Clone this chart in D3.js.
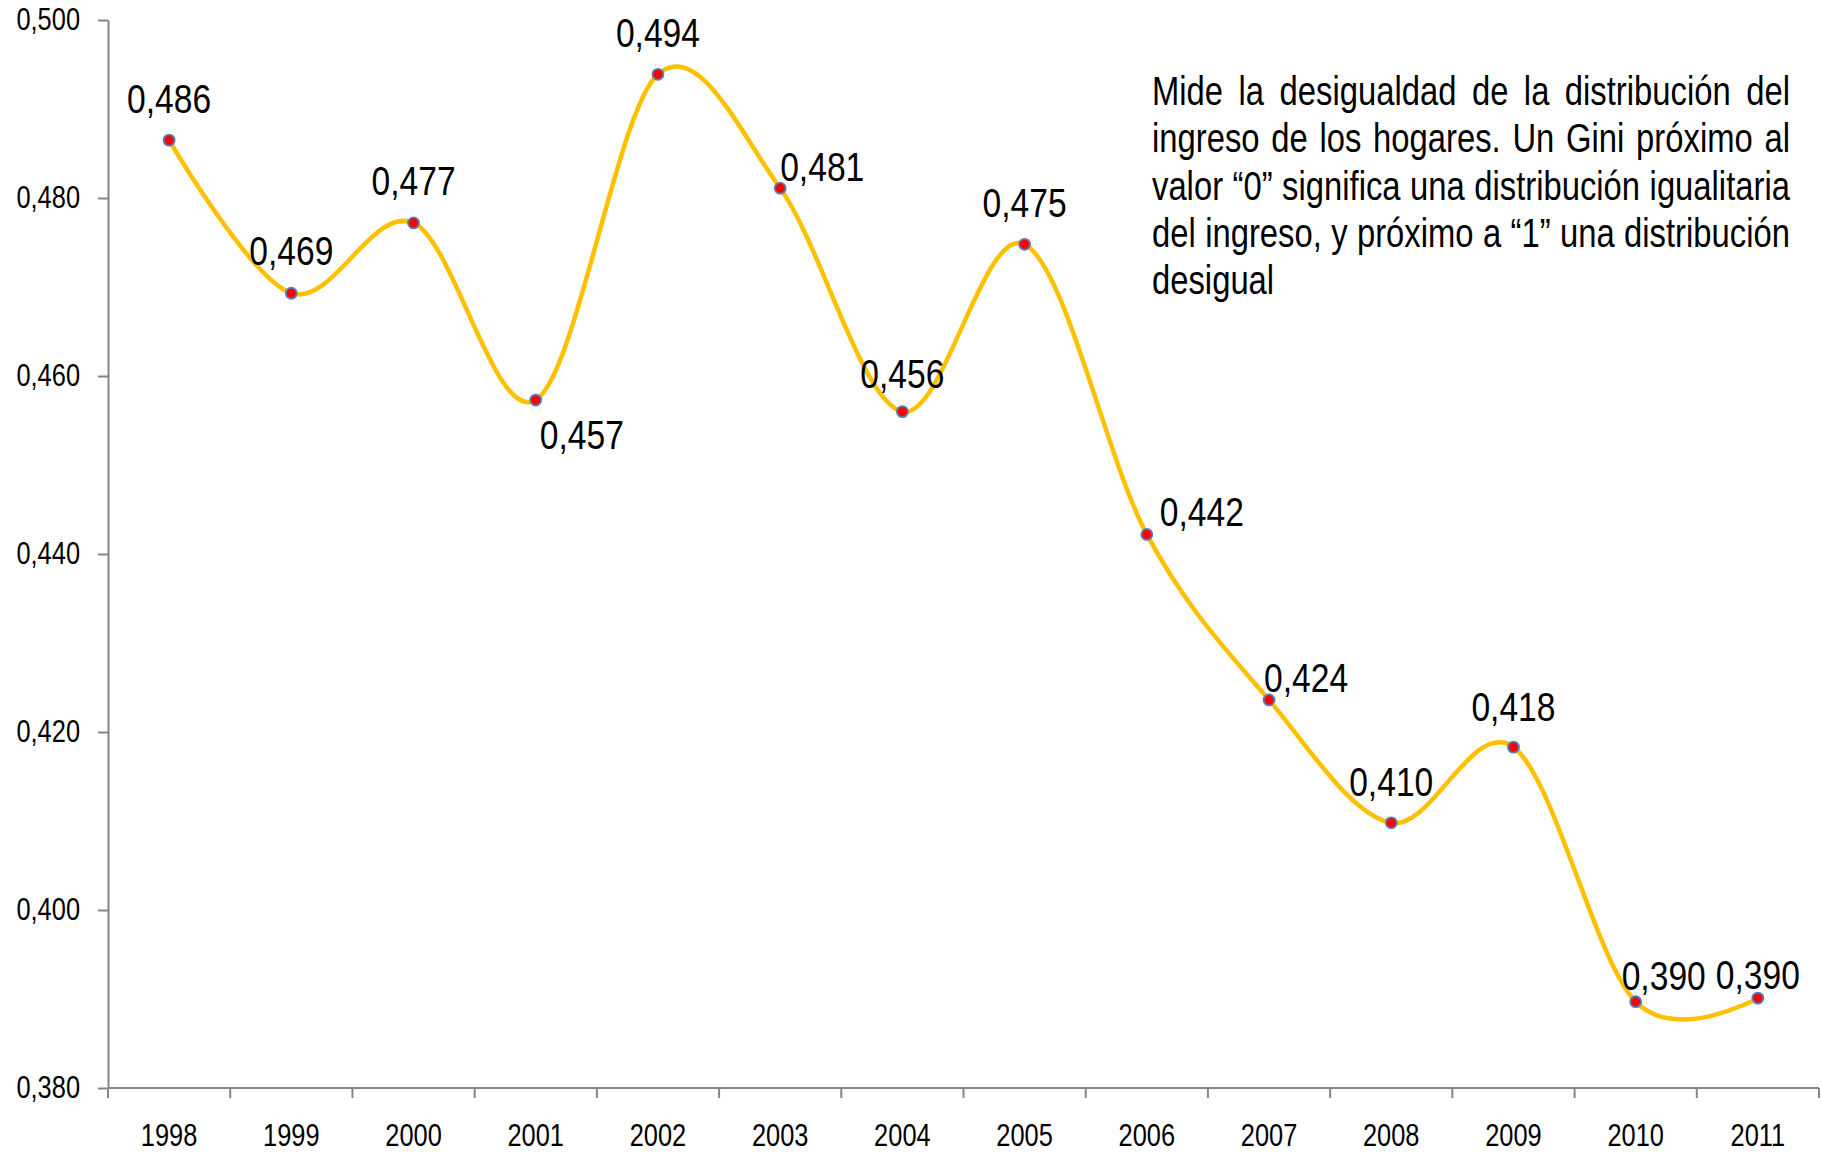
<!DOCTYPE html>
<html>
<head>
<meta charset="utf-8">
<script src="https://cdn.jsdelivr.net/npm/d3@7"></script>
<style>
  html, body { margin: 0; padding: 0; background: #fff; }
  svg text { font-family: "Liberation Sans", Arial, sans-serif; fill: #000; }
</style>
</head>
<body>
<svg id="chart" width="1822" height="1152"></svg>
<script>
// ---- data ----
const years = ["1998","1999","2000","2001","2002","2003","2004","2005","2006","2007","2008","2009","2010","2011"];
const gini = [0.4865, 0.4693, 0.4772, 0.4573, 0.4939, 0.4811, 0.4560, 0.4748, 0.4422, 0.4236, 0.4098, 0.4183, 0.3897, 0.3901];
const giniLabels = ["0,486","0,469","0,477","0,457","0,494","0,481","0,456","0,475","0,442","0,424","0,410","0,418","0,390","0,390"];
const yTicks = [0.380, 0.400, 0.420, 0.440, 0.460, 0.480, 0.500];
const yTickLabels = ["0,380","0,400","0,420","0,440","0,460","0,480","0,500"];
const noteLines = [
  "Mide la desigualdad de la distribución del",
  "ingreso de los hogares. Un Gini próximo al",
  "valor “0” significa una distribución igualitaria",
  "del ingreso, y próximo a “1” una distribución",
  "desigual"
];

// ---- label placement (style) ----
const labelPlacement = [
  {anchor:"middle", dx:0,  dy:-27},
  {anchor:"middle", dx:0,  dy:-28},
  {anchor:"middle", dx:0,  dy:-28},
  {anchor:"start",  dx:4,  dy:49},
  {anchor:"middle", dx:0,  dy:-27},
  {anchor:"start",  dx:0,  dy:-7},
  {anchor:"middle", dx:0,  dy:-24},
  {anchor:"middle", dx:0,  dy:-27},
  {anchor:"start",  dx:13, dy:-8},
  {anchor:"start",  dx:-5, dy:-8},
  {anchor:"middle", dx:0,  dy:-27},
  {anchor:"middle", dx:0,  dy:-26},
  {anchor:"start",  dx:-14,dy:-12},
  {anchor:"middle", dx:0,  dy:-9}
];

const NARROW = 0.82; // horizontal condensation to mimic a narrow face
function narrowX(sel, xFn) {
  sel.attr("x", xFn).attr("transform", `scale(${NARROW},1)`);
}

const svg = d3.select("#chart");
const mLeft = 108, mRight = 1819, mTop = 20, mBottom = 1088;
const axisColor = "#868686";

const x = d3.scaleBand().domain(years).range([mLeft, mRight]).padding(0);
const y = d3.scaleLinear().domain([0.38, 0.50]).range([mBottom, mTop]);

// y axis
const yAxis = d3.axisLeft(y).tickValues(yTicks)
  .tickFormat((d, i) => yTickLabels[i]).tickSize(10).tickSizeOuter(0).tickPadding(18);
const gy = svg.append("g").attr("transform", `translate(${mLeft},0)`).call(yAxis);
gy.selectAll("path, line").attr("stroke", axisColor).attr("stroke-width", 2);
gy.selectAll("text").style("font-size", "31px").attr("fill", "#000");
narrowX(gy.selectAll("text"), -28 / NARROW);

// x axis with ticks at band boundaries
const gx = svg.append("g").attr("transform", `translate(0,${mBottom})`);
gx.append("line").attr("x1", mLeft).attr("x2", mRight).attr("y1", 0).attr("y2", 0)
  .attr("stroke", axisColor).attr("stroke-width", 2);
const bounds = years.map(d => x(d)).concat([x(years[years.length-1]) + x.bandwidth()]);
gx.selectAll("line.tick").data(bounds).join("line").attr("class", "tick")
  .attr("x1", d => d).attr("x2", d => d).attr("y1", 0).attr("y2", 10)
  .attr("stroke", axisColor).attr("stroke-width", 2);
const xl = gx.selectAll("text").data(years).join("text")
  .attr("y", 58).attr("text-anchor", "middle").style("font-size", "31px").text(d => d);
narrowX(xl, d => (x(d) + x.bandwidth()/2) / NARROW);

// line
const cx = (d, i) => x(years[i]) + x.bandwidth()/2;
const line = d3.line().x((d, i) => cx(d, i)).y(d => y(d)).curve(d3.curveCardinal.tension(0));
svg.append("path").datum(gini).attr("d", line)
  .attr("fill", "none").attr("stroke", "#FFC000").attr("stroke-width", 4.5);

// markers
svg.selectAll("circle.pt").data(gini).join("circle").attr("class", "pt")
  .attr("cx", (d, i) => cx(d, i)).attr("cy", d => y(d)).attr("r", 5.5)
  .attr("fill", "#FF0000").attr("stroke", "#4F81BD").attr("stroke-width", 1.8);

// data labels
const lbl = svg.selectAll("text.lbl").data(gini).join("text").attr("class", "lbl")
  .attr("y", (d, i) => y(d) + labelPlacement[i].dy)
  .attr("text-anchor", (d, i) => labelPlacement[i].anchor)
  .style("font-size", "41px").text((d, i) => giniLabels[i]);
narrowX(lbl, (d, i) => (cx(d, i) + labelPlacement[i].dx) / NARROW);

// justified note
const noteLeft = 1152, noteRight = 1790, noteTop = 105, lineH = 47.3, noteSize = 40;
const measurer = svg.append("text").style("font-size", noteSize + "px").attr("x", -9999).attr("y", -9999);
function wordWidth(w) { measurer.text(w); return measurer.node().getComputedTextLength() * NARROW; }
const note = svg.append("g");
noteLines.forEach((ln, li) => {
  const words = ln.split(" ");
  const widths = words.map(wordWidth);
  const total = d3.sum(widths);
  const last = li === noteLines.length - 1;
  const spaceW = noteSize * 0.278 * NARROW;
  const gap = (!last && words.length > 1) ? (noteRight - noteLeft - total) / (words.length - 1) : spaceW;
  const t = note.append("text").attr("y", noteTop + li*lineH).style("font-size", noteSize + "px")
    .attr("transform", `scale(${NARROW},1)`);
  let cur = noteLeft;
  words.forEach((w, k) => {
    t.append("tspan").attr("x", cur / NARROW).text(w);
    cur += widths[k] + gap;
  });
});
measurer.remove();
</script>
</body>
</html>
